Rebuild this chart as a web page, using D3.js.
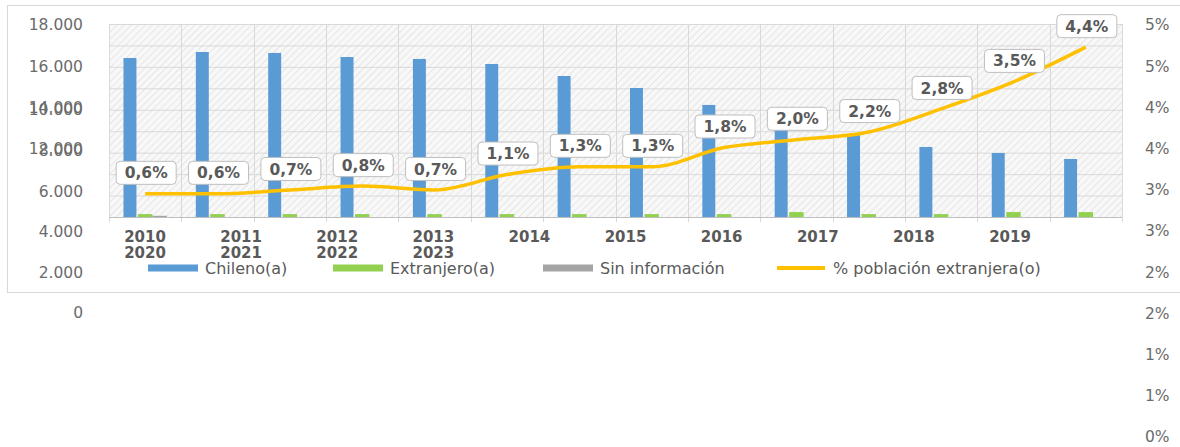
<!DOCTYPE html>
<html>
<head>
<meta charset="utf-8">
<script src="https://cdn.jsdelivr.net/npm/d3@7"></script>
<style>
  body { margin: 0; background: #fff; }
  svg { display: block; }
</style>
</head>
<body>
<div id="chart"></div>
<script>
// Values.
let categories = d3.range(14);
let yearsTop = ["2010", "2011", "2012", "2013", "2014", "2015", "2016", "2017", "2018", "2019"];
let yearsBottom = ["2020", "2021", "2022", "2023"];
let chileno = [14830, 15390, 15300, 14920, 14740, 14270, 13150, 12030, 10450, 8110, 7650, 6530, 5970, 5410];
let extranjero = [270, 270, 270, 270, 270, 270, 270, 270, 270, 460, 270, 270, 460, 460];
let sinInfo = [110, 0, 0, 0, 0, 0, 0, 0, 0, 0, 0, 0, 0, 0];
let pctExtranjera = [0.6, 0.6, 0.7, 0.8, 0.7, 1.1, 1.3, 1.3, 1.8, 2.0, 2.2, 2.8, 3.5, 4.4];
let leftTicksLow = [0, 2000, 4000, 6000, 8000, 10000];
let leftTicksHigh = [12000, 14000, 16000, 18000];
let rightTickLabels = ["0%", "1%", "1%", "2%", "2%", "3%", "3%", "4%", "4%", "5%", "5%"];
let seriesNames = ["Chileno(a)", "Extranjero(a)", "Sin información", "% población extranjera(o)"];
let seriesColors = ["#5B9BD5", "#92D050", "#A5A5A5", "#FFC000"];

let width = 1180, height = 447;
let plot = { left: 109, right: 1122, top: 24, bottom: 217 };

let locale = d3.formatLocale({ decimal: ",", thousands: ".", grouping: [3], currency: ["$", ""] });
let fmtThousands = locale.format(",.0f");
let fmtPct = locale.format(".1f");

let svg = d3.select("#chart").append("svg")
    .attr("width", width)
    .attr("height", height);

// Hatched plot background.
let defs = svg.append("defs");
let pattern = defs.append("pattern")
    .attr("id", "hatch")
    .attr("width", 5)
    .attr("height", 5)
    .attr("patternUnits", "userSpaceOnUse")
    .attr("patternTransform", "rotate(45)");
pattern.append("rect").attr("width", 5).attr("height", 5).attr("fill", "#f8f8f8");
pattern.append("line").attr("x1", 0).attr("y1", 0).attr("x2", 0).attr("y2", 5)
    .attr("stroke", "#e6e6e6").attr("stroke-width", 2);

// Chart frame.
svg.append("rect")
    .attr("x", 7.5).attr("y", 5.5)
    .attr("width", 1180).attr("height", 287)
    .attr("fill", "#fff")
    .attr("stroke", "#d9d9d9");

svg.append("rect")
    .attr("x", plot.left).attr("y", plot.top)
    .attr("width", plot.right - plot.left).attr("height", plot.bottom - plot.top)
    .attr("fill", "url(#hatch)");

// Scales.
let x = d3.scaleBand().domain(categories).range([plot.left, plot.right]);
let xSeries = d3.scaleBand().domain([0, 1, 2]).range([0, x.bandwidth()]).paddingOuter(1);
let yBar = d3.scaleLinear().domain([0, 18000]).range([plot.bottom, plot.top]);
let yLine = d3.scaleLinear().domain([0, 5]).range([plot.bottom, plot.top]);

// Gridlines.
svg.append("g").selectAll("line")
    .data(d3.range(0, 18001, 2000))
    .enter().append("line")
    .attr("x1", plot.left).attr("x2", plot.right)
    .attr("y1", d => yBar(d) + 0.5).attr("y2", d => yBar(d) + 0.5)
    .attr("stroke", "#d9d9d9");

svg.append("g").selectAll("line")
    .data(categories.concat([14]))
    .enter().append("line")
    .attr("x1", d => Math.round(plot.left + d * x.step()) + 0.5)
    .attr("x2", d => Math.round(plot.left + d * x.step()) + 0.5)
    .attr("y1", plot.top).attr("y2", plot.bottom + 5)
    .attr("stroke", "#d9d9d9");

svg.append("line")
    .attr("x1", plot.left).attr("x2", plot.right)
    .attr("y1", plot.bottom + 0.5).attr("y2", plot.bottom + 0.5)
    .attr("stroke", "#bfbfbf");

// Bars.
let barSeries = [chileno, extranjero, sinInfo];
barSeries.forEach(function(values, s) {
    svg.append("g").selectAll("rect")
        .data(values)
        .enter().append("rect")
        .attr("x", (d, i) => x(i) + xSeries(s))
        .attr("width", xSeries.bandwidth() - (s === 0 ? 1.5 : 0))
        .attr("y", d => yBar(d))
        .attr("height", d => yBar(0) - yBar(d))
        .attr("fill", seriesColors[s]);
});

// Percentage line.
let line = d3.line()
    .x((d, i) => x(i) + x.bandwidth() / 2)
    .y(d => yLine(d))
    .curve(d3.curveMonotoneX);

svg.append("path")
    .datum(pctExtranjera)
    .attr("d", line)
    .attr("fill", "none")
    .attr("stroke", seriesColors[3])
    .attr("stroke-width", 3.5)
    .attr("stroke-linejoin", "round");

// Data labels.
let labels = svg.append("g").selectAll("g")
    .data(pctExtranjera)
    .enter().append("g")
    .attr("transform", (d, i) => "translate(" + (x(i) + x.bandwidth() / 2 + 1) + "," + (yLine(d) - 21) + ")");

labels.append("text")
    .attr("text-anchor", "middle")
    .attr("dy", "0.36em")
    .attr("font-family", "DejaVu Sans")
    .attr("font-weight", "bold")
    .attr("font-size", 15.5)
    .attr("fill", "#595959")
    .text(d => fmtPct(d) + "%");

labels.insert("rect", "text")
    .each(function() {
        let w = this.parentNode.querySelector("text").getComputedTextLength() + 17;
        d3.select(this)
            .attr("x", -w / 2).attr("y", -11.5)
            .attr("width", w).attr("height", 23);
    })
    .attr("rx", 4)
    .attr("fill", "#fff")
    .attr("stroke", "#bfbfbf");

// X labels (as shown, spread over their own positions).
let xLabel = d3.scalePoint().domain(yearsTop).range([145, 1010]);
svg.append("g").selectAll("text")
    .data(yearsTop)
    .enter().append("text")
    .attr("x", d => xLabel(d))
    .attr("y", 242)
    .attr("text-anchor", "middle")
    .attr("font-family", "DejaVu Sans")
    .attr("font-weight", "bold")
    .attr("font-size", 15)
    .attr("fill", "#595959")
    .text(d => d);

svg.append("g").selectAll("text")
    .data(yearsBottom)
    .enter().append("text")
    .attr("x", (d, i) => xLabel(yearsTop[i]))
    .attr("y", 258)
    .attr("text-anchor", "middle")
    .attr("font-family", "DejaVu Sans")
    .attr("font-weight", "bold")
    .attr("font-size", 15)
    .attr("fill", "#595959")
    .text(d => d);

// Axis labels (overlapping as in the picture).
function styleAxis(g) {
    g.select(".domain").remove();
    g.selectAll("line").remove();
    g.attr("font-family", "DejaVu Sans").attr("font-size", 15.5);
    g.selectAll("text").attr("fill", "#6b6b6b");
}

let yLeftLow = d3.scaleLinear().domain([0, 10000]).range([313, 110]);
let yLeftHigh = d3.scaleLinear().domain([12000, 18000]).range([149, 25]);
let yRight = d3.scaleLinear().domain([0, 10]).range([437, 25]);

svg.append("g")
    .attr("transform", "translate(83,0)")
    .call(d3.axisLeft(yLeftLow).tickValues(leftTicksLow).tickFormat(fmtThousands).tickSize(0).tickPadding(0))
    .call(styleAxis);

svg.append("g")
    .attr("transform", "translate(83,0)")
    .call(d3.axisLeft(yLeftHigh).tickValues(leftTicksHigh).tickFormat(fmtThousands).tickSize(0).tickPadding(0))
    .call(styleAxis);

svg.append("g")
    .attr("transform", "translate(1145,0)")
    .call(d3.axisRight(yRight).tickValues(d3.range(rightTickLabels.length)).tickFormat(i => rightTickLabels[i]).tickSize(0).tickPadding(0))
    .call(styleAxis);

// Legend.
let legendX = [148, 333, 543, 777];
let legend = svg.append("g").selectAll("g")
    .data(seriesNames)
    .enter().append("g")
    .attr("transform", (d, i) => "translate(" + legendX[i] + ",268)");

legend.append("rect")
    .attr("x", 0).attr("y", -3.5)
    .attr("width", d => d === seriesNames[3] ? 0 : 50)
    .attr("height", 7)
    .attr("fill", (d, i) => seriesColors[i]);

legend.filter((d, i) => i === 3).append("line")
    .attr("x1", 0).attr("x2", 48)
    .attr("stroke", seriesColors[3])
    .attr("stroke-width", 4);

legend.append("text")
    .attr("x", (d, i) => i === 3 ? 56 : 57)
    .attr("dy", "0.35em")
    .attr("font-family", "DejaVu Sans")
    .attr("font-size", 16)
    .attr("fill", "#595959")
    .text(d => d);
</script>
</body>
</html>
